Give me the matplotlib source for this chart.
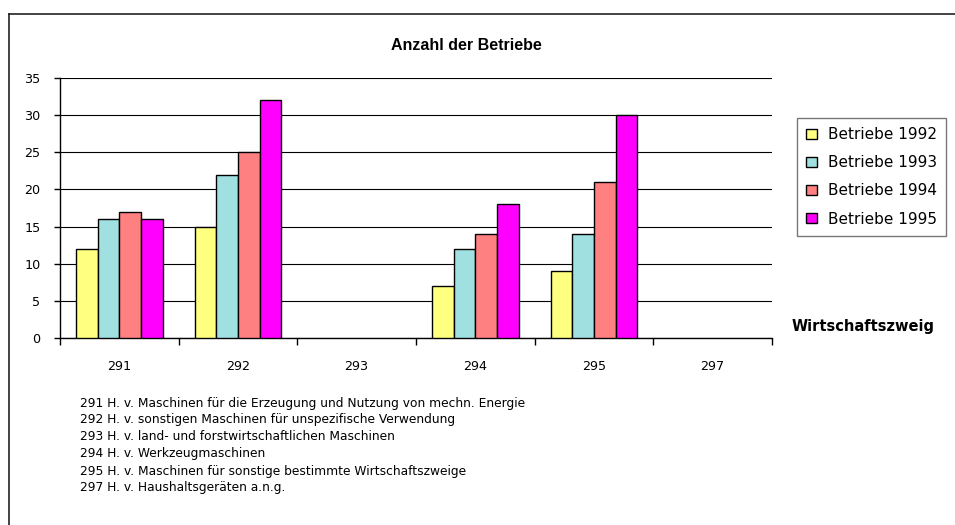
import numpy as np
import matplotlib
matplotlib.use("Agg")
import matplotlib.pyplot as plt
from matplotlib.lines import Line2D

plt.rcParams['font.family'] = ['DejaVu Sans']

categories = ['291', '292', '293', '294', '295', '297']
series_names = ['Betriebe 1992', 'Betriebe 1993', 'Betriebe 1994', 'Betriebe 1995']
b1992 = [12, 15, np.nan, 7, 9, np.nan]
b1993 = [16, 22, np.nan, 12, 14, np.nan]
b1994 = [17, 25, np.nan, 14, 21, np.nan]
b1995 = [16, 32, np.nan, 18, 30, np.nan]
series = [b1992, b1993, b1994, b1995]
colors = ['#FFFF80', '#A0E0E0', '#FF8080', '#FF00FF']
notes = [
    '291 H. v. Maschinen für die Erzeugung und Nutzung von mechn. Energie',
    '292 H. v. sonstigen Maschinen für unspezifische Verwendung',
    '293 H. v. land- und forstwirtschaftlichen Maschinen',
    '294 H. v. Werkzeugmaschinen',
    '295 H. v. Maschinen für sonstige bestimmte Wirtschaftszweige',
    '297 H. v. Haushaltsgeräten a.n.g.',
]

W, H = 955, 525
fig = plt.figure(figsize=(W / 100, H / 100), dpi=100)
ax = fig.add_axes([60 / W, 1 - 338 / H, (772 - 60) / W, (338 - 78) / H])

x = np.arange(len(categories))
bw = 0.183
handles = []
for i, (vals, c, name) in enumerate(zip(series, colors, series_names)):
    bars = ax.bar(x + (i - 1.5) * bw, vals, width=bw, color=c, edgecolor='black',
                  linewidth=1.0, label=name, zorder=3)
    handles.append(bars)

ax.set_xlim(-0.5, len(categories) - 0.5)
ax.set_ylim(0, 35)
ax.set_yticks(np.arange(0, 36, 5))
ax.set_xticks(x)
ax.set_xticklabels(categories)
ax.set_xticks(np.arange(-0.5, len(categories), 1.0), minor=True)
ax.tick_params(axis='x', which='major', length=0, pad=16, labelsize=9.2)
ax.tick_params(axis='x', which='minor', length=5, width=1, direction='out')
ax.tick_params(axis='y', length=4, width=1, direction='out', pad=10, labelsize=9.2)
ax.yaxis.grid(True, color='black', linewidth=0.8, zorder=0)
ax.set_axisbelow(True)
for s in ['top', 'right']:
    ax.spines[s].set_visible(False)
for s in ['left', 'bottom']:
    ax.spines[s].set_linewidth(1.0)
    ax.spines[s].set_color('black')

# title
fig.text(466 / W, 1 - 46 / H, 'Anzahl der Betriebe', ha='center', va='center',
         fontsize=11.5, fontweight='bold', family='Liberation Sans')

# axis label
fig.text(792 / W, 1 - 327 / H, 'Wirtschaftszweig', ha='left', va='center',
         fontsize=10.5, fontweight='bold')

# legend
leg = fig.legend(handles=handles, labels=series_names, loc='upper left',
                 bbox_to_anchor=(797 / W, 1 - 118 / H), bbox_transform=fig.transFigure,
                 fontsize=11, frameon=True, fancybox=False, handlelength=0.68,
                 handleheight=0.68, handletextpad=0.75, labelspacing=0.86,
                 borderpad=0.6, borderaxespad=0, edgecolor='#555555')
leg.get_frame().set_linewidth(1.0)

# notes
for k, t in enumerate(notes):
    fig.text(80 / W, 1 - (403 + 17 * k) / H, t, ha='left', va='center', fontsize=8.8)

# outer frame (left and top)
fig.add_artist(Line2D([8.5 / W, 8.5 / W], [0, 1 - 14 / H], transform=fig.transFigure,
                      color='#222222', linewidth=1.2))
fig.add_artist(Line2D([8.5 / W, 1], [1 - 14 / H, 1 - 14 / H], transform=fig.transFigure,
                      color='#222222', linewidth=1.2))

fig.savefig('out.png', dpi=100, facecolor='white')
